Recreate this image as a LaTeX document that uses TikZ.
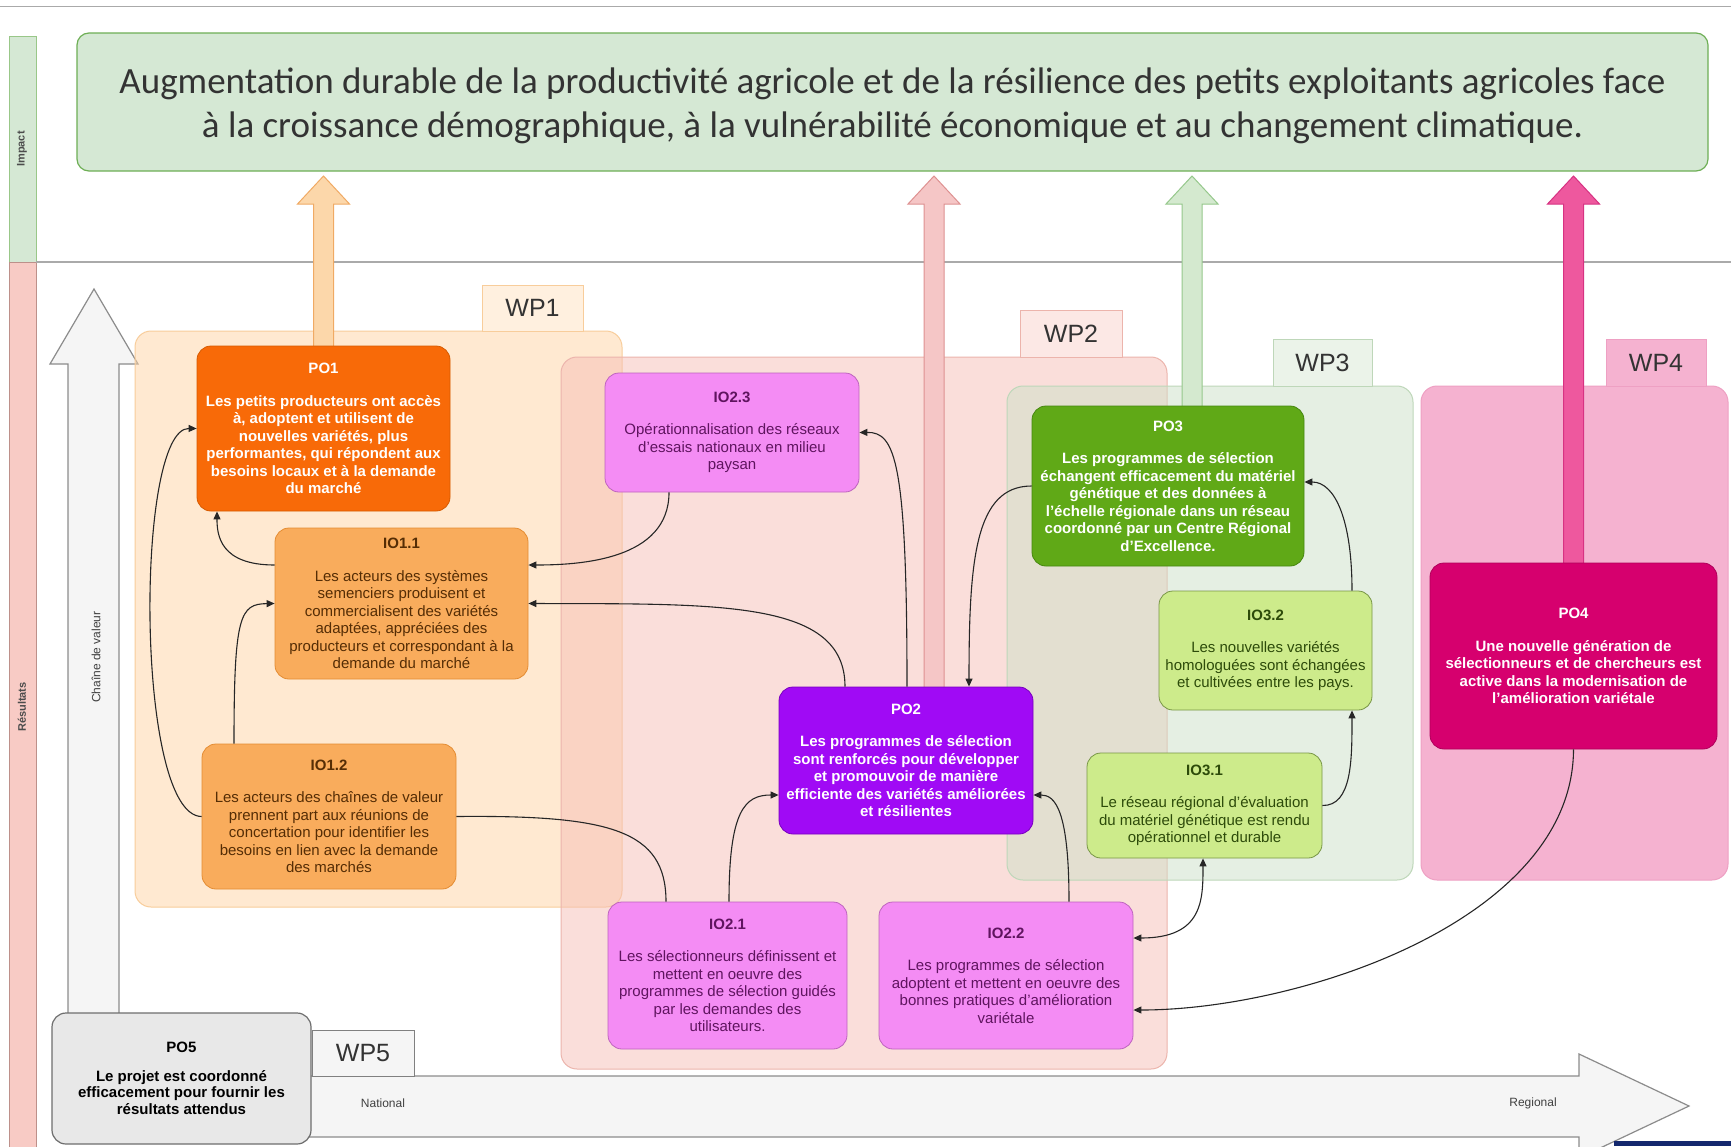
\documentclass[tikz,border=0pt]{standalone}
\usepackage{fontspec}
\setmainfont{Liberation Sans}
\newfontfamily\carlito{Carlito}
\usetikzlibrary{calc,arrows.meta}
\pgfdeclarelayer{bg}
\pgfdeclarelayer{mid}
\pgfsetlayers{bg,mid,main}
\definecolor{po1c}{RGB}{248,106,8}
\definecolor{po1d}{RGB}{214,90,0}
\definecolor{io1c}{RGB}{249,172,92}
\definecolor{io1d}{RGB}{228,140,50}
\definecolor{io1t}{RGB}{85,45,5}
\definecolor{io2c}{RGB}{244,140,244}
\definecolor{io2d}{RGB}{190,100,190}
\definecolor{io2t}{RGB}{95,20,95}
\definecolor{po2c}{RGB}{160,10,245}
\definecolor{po2d}{RGB}{120,0,190}
\definecolor{po3c}{RGB}{96,169,23}
\definecolor{po3d}{RGB}{70,135,15}
\definecolor{io3c}{RGB}{205,235,139}
\definecolor{io3d}{RGB}{120,150,70}
\definecolor{io3t}{RGB}{45,75,10}
\definecolor{po4c}{RGB}{214,0,110}
\definecolor{po4d}{RGB}{175,0,90}
\definecolor{po5c}{RGB}{232,232,232}
\definecolor{po5d}{RGB}{110,110,110}
\definecolor{wp1c}{RGB}{255,212,165}
\definecolor{wp1d}{RGB}{248,205,155}
\definecolor{wp2c}{RGB}{246,190,182}
\definecolor{wp2d}{RGB}{236,180,172}
\definecolor{wp3c}{RGB}{205,224,200}
\definecolor{wp3d}{RGB}{190,215,185}
\definecolor{wp4c}{RGB}{245,178,208}
\definecolor{wp4d}{RGB}{238,160,195}
\definecolor{titc}{RGB}{213,232,212}
\definecolor{titd}{RGB}{110,175,85}
\definecolor{gline}{RGB}{170,170,170}
\definecolor{ar1f}{RGB}{252,215,170}
\definecolor{ar1d}{RGB}{240,170,100}
\definecolor{ar2f}{RGB}{245,198,198}
\definecolor{ar2d}{RGB}{222,145,145}
\definecolor{ar3f}{RGB}{212,233,207}
\definecolor{ar3d}{RGB}{150,200,140}
\definecolor{ar4f}{RGB}{238,88,158}
\definecolor{ar4d}{RGB}{215,50,130}
\definecolor{navy}{RGB}{20,40,110}
\newcommand\uparr[3]{%
  \draw[fill=#2,draw=#3,line width=1pt,line join=miter]
    ($(#1)+(-10,6)$) -- ($(#1|-0,204)+(-10,0)$) -- ($(#1|-0,204)+(-26,0)$)
    -- (#1|-0,176) -- ($(#1|-0,204)+(26,0)$) -- ($(#1|-0,204)+(10,0)$)
    -- ($(#1)+(10,6)$) -- cycle;}
\begin{document}
\begin{tikzpicture}[x=1pt,y=-1pt,
  box/.style={rectangle,rounded corners=14pt,align=center,inner sep=0pt,line width=0.8pt},
  pofont/.style={font=\fontsize{15}{17.5}\selectfont\bfseries},
  iofont/.style={font=\fontsize{15}{17.5}\selectfont},
  po1s/.style={box,pofont,fill=po1c,draw=po1d,text=white},
  io1s/.style={box,iofont,fill=io1c,draw=io1d,text=io1t},
  io2s/.style={box,iofont,fill=io2c,draw=io2d,text=io2t},
  po2s/.style={box,pofont,fill=po2c,draw=po2d,text=white},
  po3s/.style={box,pofont,fill=po3c,draw=po3d,text=white},
  io3s/.style={box,iofont,fill=io3c,draw=io3d,text=io3t},
  po4s/.style={box,pofont,fill=po4c,draw=po4d,text=white},
  po5s/.style={box,font=\fontsize{15}{16.5}\selectfont\bfseries,fill=po5c,draw=po5d,text=black,line width=1.2pt},
  wpbox/.style={rectangle,rounded corners=16pt,fill opacity=0.5,line width=1pt,inner sep=0pt},
  wptab/.style={rectangle,inner sep=0pt,line width=1pt,font=\fontsize{25}{25}\selectfont,text=black!80},
  conn/.style={line width=1.1pt,draw=black!85,-{Triangle[length=8pt,width=7pt]}},
  small/.style={font=\fontsize{12}{12}\selectfont,text=black!75}
]
\useasboundingbox (0,0) rectangle (1731,1146);
\begin{pgfonlayer}{bg}
\fill[white] (0,0) rectangle (1731,1146);
% frame and bands
\draw[gline,line width=1pt] (0,6) -- (1731,6);
\draw[fill=titc,draw=titd!70,line width=0.8pt] (9,36) rectangle (36,262);
\draw[fill=wp2c!80,draw=wp2d!80!black,line width=0.8pt] (9,262) rectangle (36,1150);
\draw[gline,line width=1.2pt] (36,262) -- (1731,262);
\node[rotate=90,font=\fontsize{11}{11}\selectfont\bfseries,text=black!70] (limp) at (22,149) {Impact};
\node[rotate=90,font=\fontsize{11}{11}\selectfont\bfseries,text=black!70] (lres) at (22,707) {Résultats};
% title
\node[rectangle,rounded corners=12pt,fill=titc,draw=titd,line width=1.2pt,minimum width=1631pt,minimum height=138pt] (title) at (892.5,102) {};
\node[align=center,inner sep=0pt,font=\carlito\fontsize{37}{44}\selectfont,text=black!80] (titletext) at (892.5,106)
  {Augmentation durable de la productivité agricole et de la résilience des petits exploitants agricoles face\\
   à la croissance démographique, à la vulnérabilité économique et au changement climatique.};
% value chain arrow
\draw[fill=black!4,draw=black!45,line width=1.2pt,line join=miter]
  (68,1020) -- (68,364) -- (50,364) -- (94,289) -- (138,364) -- (119,364) -- (119,1020) -- cycle;
\node[small,rotate=90] (lchain) at (96,657) {Chaîne de valeur};
% bottom arrow
\draw[fill=black!4,draw=black!45,line width=1.2pt,line join=miter]
  (305,1076) -- (1579,1076) -- (1579,1054) -- (1689,1106) -- (1579,1158) -- (1579,1137) -- (305,1137) -- cycle;
\node[small] (lnat) at (383,1103) {National};
\node[small] (lreg) at (1533,1103) {Regional};
% WP containers
\node[wpbox,fill=wp1c,draw=wp1d,minimum width=487pt,minimum height=576pt] (wp1) at (378.5,619) {};
\node[wpbox,fill=wp2c,draw=wp2d,minimum width=606pt,minimum height=712pt] (wp2) at (864,713) {};
\node[wpbox,fill=wp3c,draw=wp3d,minimum width=406pt,minimum height=494pt] (wp3) at (1210,633) {};
\node[wpbox,fill=wp4c,draw=wp4d,fill opacity=1,minimum width=307pt,minimum height=494pt] (wp4) at (1574.5,633) {};
\node[wptab,fill=wp1c!35,draw=wp1d,minimum width=101pt,minimum height=46pt] (wp1t) at (532.5,308) {WP1};
\node[wptab,fill=wp2c!35,draw=wp2d,minimum width=102pt,minimum height=47pt] (wp2t) at (1071,333.5) {WP2};
\node[wptab,fill=wp3c!40,draw=wp3d,minimum width=99pt,minimum height=47pt] (wp3t) at (1322.5,362.5) {WP3};
\node[wptab,fill=wp4c,draw=wp4d,minimum width=100pt,minimum height=47pt] (wp4t) at (1656,362.5) {WP4};
\node[wptab,fill=black!4,draw=black!50,minimum width=102pt,minimum height=46pt] (wp5t) at (363,1053) {WP5};
\fill[navy] (1614,1141) rectangle (1731,1146);
\end{pgfonlayer}

% nodes
\node[po1s,minimum width=253pt,minimum height=165pt] (po1) at (323.5,428.5)
 {PO1\\[15pt]Les petits producteurs ont accès\\à, adoptent et utilisent de\\nouvelles variétés, plus\\performantes, qui répondent aux\\besoins locaux et à la demande\\du marché};
\node[io1s,minimum width=253pt,minimum height=151pt] (io11) at (401.5,603.5)
 {\textbf{IO1.1}\\[15pt]Les acteurs des systèmes\\semenciers produisent et\\commercialisent des variétés\\adaptées, appréciées des\\producteurs et correspondant à la\\demande du marché};
\node[io1s,minimum width=254pt,minimum height=145pt] (io12) at (329,816.5)
 {\textbf{IO1.2}\\[15pt]Les acteurs des chaînes de valeur\\prennent part aux réunions de\\concertation pour identifier les\\besoins en lien avec la demande\\des marchés};
\node[io2s,minimum width=254pt,minimum height=119pt] (io23) at (732,432.5)
 {\textbf{IO2.3}\\[15pt]Opérationnalisation des réseaux\\d'essais nationaux en milieu\\paysan};
\node[po2s,minimum width=254pt,minimum height=147pt] (po2) at (906,760.5)
 {PO2\\[15pt]Les programmes de sélection\\sont renforcés pour développer\\et promouvoir de manière\\efficiente des variétés améliorées\\et résilientes};
\node[io2s,minimum width=239pt,minimum height=147pt] (io21) at (727.5,975.5)
 {\textbf{IO2.1}\\[15pt]Les sélectionneurs définissent et\\mettent en oeuvre des\\programmes de sélection guidés\\par les demandes des\\utilisateurs.};
\node[io2s,minimum width=254pt,minimum height=147pt] (io22) at (1006,975.5)
 {\textbf{IO2.2}\\[15pt]Les programmes de sélection\\adoptent et mettent en oeuvre des\\bonnes pratiques d'amélioration\\variétale};
\node[po3s,minimum width=272pt,minimum height=160pt] (po3) at (1168,486)
 {PO3\\[15pt]Les programmes de sélection\\échangent efficacement du matériel\\génétique et des données à\\l'échelle régionale dans un réseau\\coordonné par un Centre Régional\\d'Excellence.};
\node[io3s,minimum width=213pt,minimum height=119pt] (io32) at (1265.5,650.5)
 {\textbf{IO3.2}\\[15pt]Les nouvelles variétés\\homologuées sont échangées\\et cultivées entre les pays.};
\node[io3s,minimum width=235pt,minimum height=105pt] (io31) at (1204.5,805.5)
 {\textbf{IO3.1}\\[15pt]Le réseau régional d'évaluation\\du matériel génétique est rendu\\opérationnel et durable};
\node[po4s,minimum width=287pt,minimum height=186pt] (po4) at (1573.5,656)
 {PO4\\[15pt]Une nouvelle génération de\\sélectionneurs et de chercheurs est\\active dans la modernisation de\\l'amélioration variétale};
\node[po5s,minimum width=259pt,minimum height=131pt] (po5) at (181.5,1078.5)
 {PO5\\[12pt]Le projet est coordonné\\efficacement pour fournir les\\résultats attendus};

% block arrows to impact
\begin{pgfonlayer}{mid}
\coordinate (a1) at (po1.north);
\coordinate (a2) at ([xshift=28pt]po2.north);
\coordinate (a3) at ([xshift=24pt]po3.north);
\coordinate (a4) at (po4.north);
\uparr{a1}{ar1f}{ar1d}
\uparr{a2}{ar2f}{ar2d}
\uparr{a3}{ar3f}{ar3d}
\uparr{a4}{ar4f}{ar4d}
\end{pgfonlayer}

% connectors
\draw[conn] ([yshift=38.5pt]io11.west) .. controls (220,565) and (217,535) .. ([xshift=-106.5pt]po1.south);
\draw[conn] (io12.west) .. controls (135,816) and (135,428) .. (po1.west);
\draw[conn] ([xshift=-95pt]io12.north) .. controls (234,615) and (240,604) .. (io11.west);
\draw[line width=1.1pt,draw=black!85] (io12.east) .. controls (610,815) and (666,830) .. ([xshift=-61.5pt]io21.north);
\draw[conn] ([xshift=-63pt]io23.south) .. controls (669,560) and (580,565) .. ([yshift=38.5pt]io11.east);
\draw[conn] ([xshift=-61pt]po2.north) .. controls (845,600) and (720,604) .. (io11.east);
\draw[conn] ([xshift=1pt]po2.north) .. controls (907,460) and (895,432) .. (io23.east);
\draw[conn] ([xshift=1.5pt]io21.north) .. controls (729,810) and (745,795) .. ([yshift=-34.5pt]po2.west);
\draw[conn] ([xshift=63pt]io22.north) .. controls (1069,810) and (1055,795) .. ([yshift=-34.5pt]po2.east);
\draw[conn] (po3.west) .. controls (975,486) and (969,560) .. ([xshift=63pt]po2.north);
\draw[conn] ([xshift=86.5pt]io32.north) .. controls (1352,520) and (1335,482) .. ([yshift=4pt]po3.east);
\draw[conn] (io31.east) .. controls (1352,806) and (1352,760) .. ([xshift=86.5pt]io32.south);
\draw[conn,{Triangle[length=8pt,width=7pt]}-{Triangle[length=8pt,width=7pt]}] ([yshift=37.5pt]io22.east) .. controls (1203,938) and (1203,900) .. ([xshift=-1.5pt]io31.south);
\draw[conn] (po4.south) .. controls (1573,920) and (1300,1010) .. ([yshift=-34.5pt]io22.east);
\end{tikzpicture}
\end{document}
